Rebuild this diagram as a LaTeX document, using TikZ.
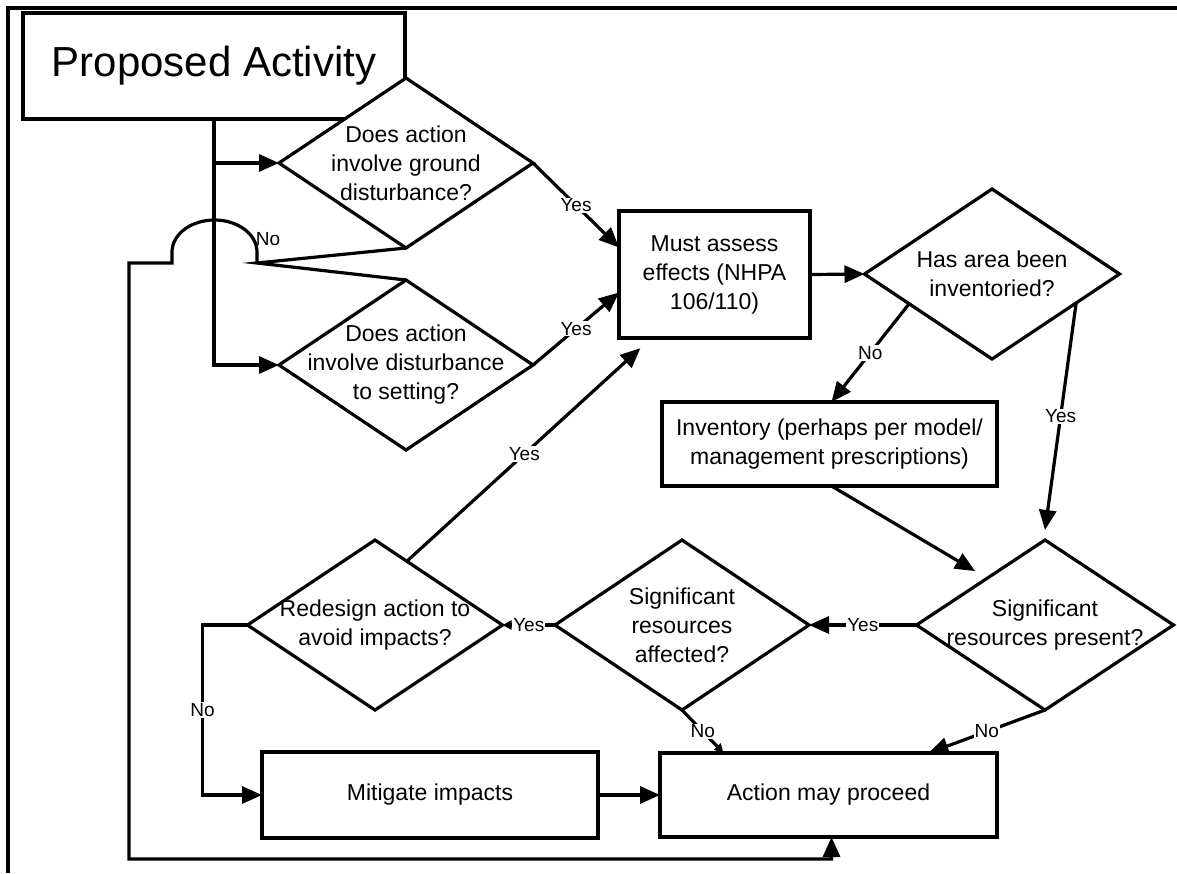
\documentclass[tikz,border=0pt]{standalone}
\usepackage{fontspec}
\setmainfont{Liberation Sans}
\usetikzlibrary{shapes.geometric,arrows.meta,calc}
\newcommand{\boxfont}{\fontsize{23}{29}\selectfont}
\newcommand{\lblfont}{\fontsize{19}{21}\selectfont}
\newcommand{\bigfont}{\fontsize{42}{50}\selectfont}
\tikzset{
  rect/.style={draw, line width=3.2pt, inner sep=0pt, outer sep=0pt, align=center, font=\boxfont},
  dia/.style={draw, fill=white, diamond, line width=3.2pt, minimum width=254pt, minimum height=170pt, inner sep=0pt, outer sep=0pt},
  dtext/.style={font=\boxfont, align=center},
  lbl/.style={fill=white, inner sep=1pt, font=\lblfont},
  ln/.style={line width=3.2pt},
  arr/.style={ln, -{Triangle[length=20pt,width=17pt]}},
  arrs/.style={ln, -{Triangle[length=9pt,width=9pt]}},
}

\begin{document}
\begin{tikzpicture}[x=1pt, y=-1pt]
  \useasboundingbox (0,0) rectangle (1177,873);
  \draw[ln] (8,873) -- (8,8) -- (1177,8); % frame

  % boxes
  \node[rect, font=\bigfont, minimum width=382pt, minimum height=106pt] (pa) at (214,66) {Proposed Activity};
  \node[rect, minimum width=191pt, minimum height=127pt] (must) at (714.5,274.5) {Must assess\\effects (NHPA\\106/110)};
  \node[rect, minimum width=335pt, minimum height=84pt] (inventory) at (829.5,444) {Inventory (perhaps per model/\\management prescriptions)};
  \node[rect, minimum width=336pt, minimum height=86pt] (mitigate) at (430,795) {Mitigate impacts};
  \node[rect, minimum width=337pt, minimum height=84pt] (action) at (828.5,795) {Action may proceed};

  % decisions
  \node[dia, label={[dtext]center:{Does action\\involve ground\\disturbance?}}] (ground) at (406,163) {};
  \node[dia, label={[dtext]center:{Does action\\involve disturbance\\to setting?}}] (setting) at (406,365) {};
  \node[dia, minimum width=255pt, label={[dtext]center:{Has area been\\inventoried?}}] (inventoried) at (992,274) {};
  \node[dia, minimum width=255pt, label={[dtext]center:{Redesign action to\\avoid impacts?}}] (redesign) at (375,625) {};
  \node[dia, label={[dtext]center:{Significant\\resources\\affected?}}] (affected) at (682,625) {};
  \node[dia, minimum width=257pt, label={[dtext]center:{Significant\\resources present?}}] (present) at (1045,625) {};

  % connectors
  \draw[arr] (pa.south) |- (setting.west);
  \draw[arr] (pa.south |- ground.west) -- (ground.west);
  \coordinate (nojoin) at (257,263);
  \draw[ln] (ground.south) -- (nojoin) -- (setting.north);
  \node[font=\lblfont, inner sep=0pt] (nolabel) at (268,239) {No};
  \draw[arr] (nojoin) -- ++(0,-11) arc[start angle=0, end angle=180, x radius=42.5pt, y radius=32pt]
    -- ++(0,11) -- (129,263) -- (129,859) -| ([xshift=3pt]action.south);

  \draw[arr] (ground.east) -- node[lbl] {Yes} ([yshift=27pt]must.west);
  \draw[arr] (setting.east) -- node[lbl] {Yes} ([yshift=-18pt]must.west);
  \draw[arr] (must.east) -- (inventoried.west);
  \draw[arr] ($(inventoried.west)!0.35!(inventoried.south)$) -- node[lbl] {No} ([xshift=2pt]inventory.north);
  \draw[arr] ($(inventoried.south)!0.66!(inventoried.east)$) -- node[lbl] {Yes} ([yshift=10pt]present.north);
  \draw[arr, shorten >=14pt] ([xshift=2pt]inventory.south) -- ($(present.west)!0.55!(present.north)$);
  \draw[arr] (present.west) -- node[lbl] {Yes} (affected.east);
  \draw[arrs] (affected.west) -- node[lbl] {Yes} (redesign.east);
  \draw[arr, shorten >=15pt] ($(redesign.north)!0.25!(redesign.east)$) -- node[lbl, pos=0.48] {Yes} ([xshift=-63pt]must.south);
  \draw[arr] (present.south) -- node[lbl] {No} ([xshift=100pt]action.north);
  \draw[arrs] (affected.south) -- node[lbl] {No} ([xshift=-105pt]action.north);
  \draw[arr] (redesign.west) -- ++(-45,0) |- node[lbl, pos=0.25] {No} (mitigate.west);
  \draw[arr] (mitigate.east) -- (action.west);
\end{tikzpicture}
\end{document}
